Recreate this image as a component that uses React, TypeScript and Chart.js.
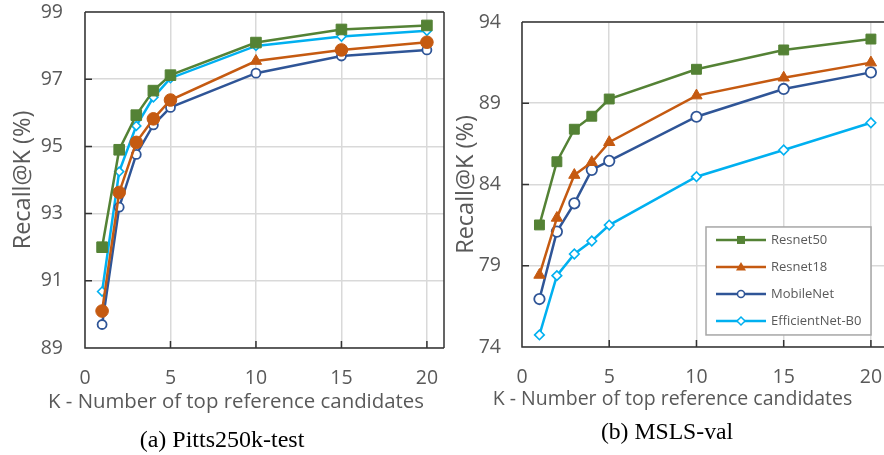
import React, { useEffect, useRef } from 'react';
import { Chart, registerables } from 'chart.js';

Chart.register(...registerables);

// ---------- data ----------
const kValues = [1, 2, 3, 4, 5, 10, 15, 20];
const seriesNames = ['Resnet50', 'Resnet18', 'MobileNet', 'EfficientNet-B0'];
const seriesColors = ['#548235', '#C55A11', '#2F5597', '#00B0F0'];

const pittsResnet50 = [92.0, 94.9, 95.93, 96.66, 97.12, 98.09, 98.48, 98.6];
const pittsResnet18 = [90.1, 93.63, 95.12, 95.82, 96.38, 97.54, 97.87, 98.1];
const pittsMobileNet = [89.7, 93.19, 94.76, 95.64, 96.16, 97.18, 97.69, 97.87];
const pittsEfficientNet = [90.68, 94.25, 95.61, 96.46, 97.03, 97.99, 98.27, 98.44];

const mslsResnet50 = [81.51, 85.4, 87.4, 88.2, 89.26, 91.09, 92.28, 92.95];
const mslsResnet18 = [78.43, 81.94, 84.58, 85.37, 86.6, 89.47, 90.57, 91.5];
const mslsMobileNet = [76.95, 81.1, 82.84, 84.9, 85.45, 88.17, 89.88, 90.9];
const mslsEfficientNet = [74.74, 78.39, 79.72, 80.52, 81.5, 84.48, 86.12, 87.8];

const xTicks = [0, 5, 10, 15, 20];
const pittsYTicks = [89, 91, 93, 95, 97, 99];
const mslsYTicks = [74, 79, 84, 89, 94];

// marker styles per point for Resnet18 in chart (a)
const pittsResnet18Styles = ['circle', 'circle', 'circle', 'circle', 'circle', 'triangle', 'circle', 'circle'];

const xTitle = 'K - Number of top reference candidates';
const yTitle = 'Recall@K (%)';
const captionA = '(a) Pitts250k-test';
const captionB = '(b) MSLS-val';

const TEXT = '#595959';
const FONT = "'Open Sans', 'Noto Sans', sans-serif";
const SERIF = "'Liberation Serif', 'Times New Roman', serif";

const toPoints = (vals: number[]) => kValues.map((k, i) => ({ x: k, y: vals[i] }));

// ---------- plugins ----------
const framePlugin = {
  id: 'frame',
  beforeDatasetsDraw(chart: any, _args: any, opts: any) {
    const { ctx, chartArea: a, scales } = chart;
    ctx.save();
    ctx.strokeStyle = opts.color;
    ctx.lineWidth = opts.width;
    ctx.beginPath();
    ctx.moveTo(a.left, a.top);
    ctx.lineTo(a.left, a.bottom);
    ctx.lineTo(a.right, a.bottom);
    ctx.moveTo(a.left, a.top);
    ctx.lineTo(a.right, a.top);
    if (opts.right) {
      ctx.moveTo(a.right, a.top);
      ctx.lineTo(a.right, a.bottom);
    }
    scales.x.ticks.forEach((t: any) => {
      const px = scales.x.getPixelForValue(t.value);
      if (px > a.left + 2 && px < a.right - 2) {
        ctx.moveTo(px, a.bottom);
        ctx.lineTo(px, a.bottom - opts.tick);
      }
    });
    scales.y.ticks.forEach((t: any) => {
      const py = scales.y.getPixelForValue(t.value);
      if (py > a.top + 2 && py < a.bottom - 2) {
        ctx.moveTo(a.left, py);
        ctx.lineTo(a.left + opts.tick, py);
      }
    });
    ctx.stroke();
    ctx.restore();
  },
};

// x-axis title, centred where the original puts it
const xLabelPlugin = {
  id: 'xLabel',
  afterDraw(chart: any, _args: any, opts: any) {
    const { ctx } = chart;
    ctx.save();
    ctx.font = `${opts.size}px ${FONT}`;
    ctx.fillStyle = TEXT;
    ctx.textAlign = 'center';
    ctx.textBaseline = 'middle';
    ctx.fillText(opts.text, opts.cx, opts.cy);
    ctx.restore();
  },
};

function drawMarker(ctx: CanvasRenderingContext2D, style: string, x: number, y: number, color: string) {
  ctx.save();
  ctx.strokeStyle = color;
  ctx.fillStyle = color;
  ctx.lineWidth = 1.5;
  ctx.beginPath();
  if (style === 'rect') {
    ctx.rect(x - 4, y - 4, 8, 8);
    ctx.fill();
  } else if (style === 'triangle') {
    ctx.moveTo(x, y - 5);
    ctx.lineTo(x + 5, y + 3.5);
    ctx.lineTo(x - 5, y + 3.5);
    ctx.closePath();
    ctx.fill();
  } else if (style === 'circle') {
    ctx.arc(x, y, 3.5, 0, Math.PI * 2);
    ctx.fillStyle = '#fff';
    ctx.fill();
    ctx.stroke();
  } else {
    ctx.moveTo(x, y - 4);
    ctx.lineTo(x + 4, y);
    ctx.lineTo(x, y + 4);
    ctx.lineTo(x - 4, y);
    ctx.closePath();
    ctx.fillStyle = '#fff';
    ctx.fill();
    ctx.stroke();
  }
  ctx.restore();
}

const boxLegendPlugin = {
  id: 'boxLegend',
  afterDatasetsDraw(chart: any, _args: any, opts: any) {
    if (!opts || !opts.display) return;
    const { ctx, chartArea: a } = chart;
    const w = opts.width;
    const h = opts.height;
    const left = a.right - opts.offsetRight - w;
    const top = a.bottom - opts.offsetBottom - h;
    ctx.save();
    ctx.fillStyle = '#fff';
    ctx.fillRect(left, top, w, h);
    ctx.strokeStyle = '#A6A6A6';
    ctx.lineWidth = 1.5;
    ctx.strokeRect(left, top, w, h);
    ctx.font = `13px ${FONT}`;
    ctx.textBaseline = 'middle';
    ctx.textAlign = 'left';
    chart.data.datasets.forEach((ds: any, i: number) => {
      const y = top + 13 + i * 27;
      ctx.strokeStyle = ds.borderColor;
      ctx.lineWidth = 2.5;
      ctx.beginPath();
      ctx.moveTo(left + 10, y);
      ctx.lineTo(left + 60, y);
      ctx.stroke();
      drawMarker(ctx, opts.styles[i], left + 35, y, ds.borderColor);
      ctx.fillStyle = TEXT;
      ctx.fillText(ds.label, left + 65, y);
    });
    ctx.restore();
  },
};

// ---------- config builder ----------
function buildConfig(p: any) {
  return {
    type: 'scatter',
    data: { datasets: p.datasets },
    plugins: [framePlugin, boxLegendPlugin, xLabelPlugin],
    options: {
      responsive: false,
      animation: false,
      events: [],
      layout: { autoPadding: false, padding: { left: 0, right: p.padRight, top: p.padTop, bottom: p.padBottom } },
      plugins: {
        legend: { display: false },
        tooltip: { enabled: false },
        title: {
          display: true,
          position: 'bottom',
          text: p.caption,
          color: '#000',
          font: { family: SERIF, size: p.captionSize, weight: 'normal' },
          padding: 0,
        },
        frame: { color: '#333333', width: 1.5, tick: 7, right: p.rightBorder },
        boxLegend: p.legend,
        xLabel: { text: xTitle, size: p.xTitleSize, cx: p.xTitleX, cy: p.xTitleY },
      },
      scales: {
        x: {
          type: 'linear',
          min: 0,
          max: p.xMax,
          afterBuildTicks: (s: any) => {
            s.ticks = xTicks.map((v) => ({ value: v }));
          },
          afterFit: (s: any) => {
            s.height = p.xHeight;
          },
          grid: {
            color: '#D9D9D9',
            lineWidth: 1.5,
            drawTicks: true,
            tickLength: p.xTickGap,
            tickColor: 'rgba(0,0,0,0)',
          },
          border: { display: false },
          ticks: { padding: 0, color: TEXT, font: { family: FONT, size: 19.5 }, maxRotation: 0 },
          title: { display: false },
        },
        y: {
          type: 'linear',
          min: p.yMin,
          max: p.yMax,
          afterBuildTicks: (s: any) => {
            s.ticks = p.yTicks.map((v: number) => ({ value: v }));
          },
          afterFit: (s: any) => {
            s.width = p.yWidth;
          },
          grid: {
            color: '#D9D9D9',
            lineWidth: 1.5,
            drawTicks: true,
            tickLength: p.yTickGap,
            tickColor: 'rgba(0,0,0,0)',
          },
          border: { display: false },
          ticks: { padding: 0, color: TEXT, font: { family: FONT, size: 19.5 } },
          title: {
            display: true,
            text: yTitle,
            color: TEXT,
            font: { family: FONT, size: 23.5 },
            padding: { top: p.yTitlePad, bottom: 0 },
          },
        },
      },
    },
  };
}

const lineBase = { showLine: true, borderWidth: 2.5, clip: false as any };

function pittsDatasets() {
  return [
    {
      ...lineBase,
      label: seriesNames[0],
      data: toPoints(pittsResnet50),
      borderColor: seriesColors[0],
      backgroundColor: seriesColors[0],
      pointStyle: 'rect',
      pointRadius: 7.5,
      pointBorderWidth: 1,
    },
    {
      ...lineBase,
      label: seriesNames[1],
      data: toPoints(pittsResnet18),
      borderColor: seriesColors[1],
      backgroundColor: seriesColors[1],
      pointStyle: pittsResnet18Styles,
      pointRadius: pittsResnet18Styles.map((s) => (s === 'triangle' ? 6.5 : 6.3)),
      pointBorderWidth: 1,
    },
    {
      ...lineBase,
      label: seriesNames[2],
      data: toPoints(pittsMobileNet),
      borderColor: seriesColors[2],
      backgroundColor: '#ffffff',
      pointStyle: 'circle',
      pointRadius: 4.5,
      pointBorderWidth: 1.8,
    },
    {
      ...lineBase,
      label: seriesNames[3],
      data: toPoints(pittsEfficientNet),
      borderColor: seriesColors[3],
      backgroundColor: '#ffffff',
      pointStyle: 'rectRot',
      pointRadius: 4.5,
      pointBorderWidth: 1.6,
    },
  ];
}

function mslsDatasets() {
  return [
    {
      ...lineBase,
      label: seriesNames[0],
      data: toPoints(mslsResnet50),
      borderColor: seriesColors[0],
      backgroundColor: seriesColors[0],
      pointStyle: 'rect',
      pointRadius: 7,
      pointBorderWidth: 1,
    },
    {
      ...lineBase,
      label: seriesNames[1],
      data: toPoints(mslsResnet18),
      borderColor: seriesColors[1],
      backgroundColor: seriesColors[1],
      pointStyle: 'triangle',
      pointRadius: 6.5,
      pointBorderWidth: 1,
    },
    {
      ...lineBase,
      label: seriesNames[2],
      data: toPoints(mslsMobileNet),
      borderColor: seriesColors[2],
      backgroundColor: '#ffffff',
      pointStyle: 'circle',
      pointRadius: 5.2,
      pointBorderWidth: 1.8,
    },
    {
      ...lineBase,
      label: seriesNames[3],
      data: toPoints(mslsEfficientNet),
      borderColor: seriesColors[3],
      backgroundColor: '#ffffff',
      pointStyle: 'rectRot',
      pointRadius: 4.8,
      pointBorderWidth: 1.6,
    },
  ];
}

function ChartCanvas({ config, width, height, left }: any) {
  const ref = useRef<HTMLCanvasElement | null>(null);
  useEffect(() => {
    if (!ref.current) return;
    const chart = new Chart(ref.current, config);
    return () => chart.destroy();
  }, []);
  return (
    <canvas
      ref={ref}
      width={width}
      height={height}
      style={{ position: 'absolute', left, top: 0, width, height, display: 'block' }}
    />
  );
}

export default function App() {
  const configA = buildConfig({
    datasets: pittsDatasets(),
    caption: captionA,
    captionSize: 24,
    padRight: 6,
    padTop: 12,
    padBottom: 0,
    xMax: 21,
    xHeight: 78.2,
    xTickGap: 18.3,
    xTitleSize: 20.4,
    xTitleX: 236,
    xTitleY: 402,
    yMin: 89,
    yMax: 99,
    yTicks: pittsYTicks,
    yWidth: 85,
    yTickGap: 22,
    yTitlePad: 9.5,
    rightBorder: true,
    legend: { display: false },
  });
  const configB = buildConfig({
    datasets: mslsDatasets(),
    caption: captionB,
    captionSize: 23.7,
    padRight: 0,
    padTop: 22,
    padBottom: 7.8,
    xMax: 20.75,
    xHeight: 71.8,
    xTickGap: 18.3,
    xTitleSize: 19.5,
    xTitleX: 222.5,
    xTitleY: 399.5,
    yMin: 74,
    yMax: 94,
    yTicks: mslsYTicks,
    yWidth: 72,
    yTickGap: 21,
    yTitlePad: 1.9,
    rightBorder: false,
    legend: {
      display: true,
      width: 165,
      height: 108,
      offsetRight: 13,
      offsetBottom: 12,
      styles: ['rect', 'triangle', 'circle', 'rectRot'],
    },
  });
  return (
    <div
      style={{
        position: 'absolute',
        left: 0,
        top: 0,
        width: 884,
        height: 455,
        overflow: 'hidden',
        background: '#fff',
      }}
    >
      <ChartCanvas config={configA} width={450} height={455} left={0} />
      <ChartCanvas config={configB} width={434} height={455} left={450} />
    </div>
  );
}
